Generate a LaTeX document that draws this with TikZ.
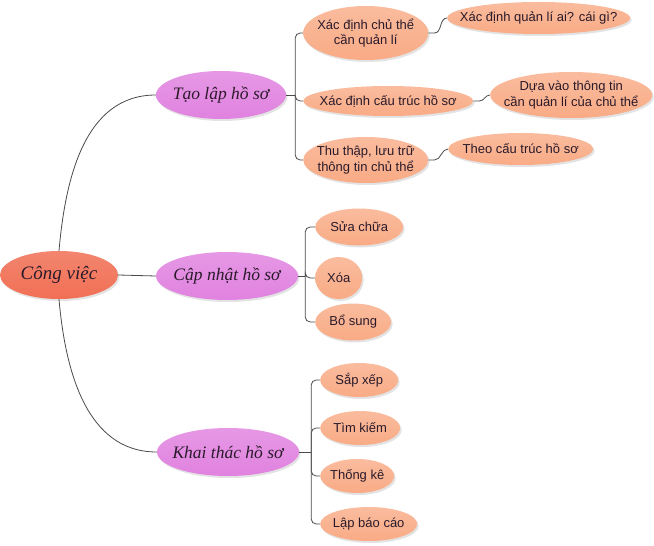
\documentclass[tikz,border=0pt]{standalone}
\usepackage{fontspec}
\setmainfont{Liberation Sans}
\newfontfamily\titlefont{Liberation Serif}
\usepackage{tikz}
\usetikzlibrary{positioning,shapes.geometric,shadows,calc}
\definecolor{croot}{HTML}{EE5636}
\definecolor{cmain}{HTML}{DB6CDA}
\definecolor{cleaf}{HTML}{F7986A}
\definecolor{cline}{HTML}{4A4A4A}
\definecolor{ctext}{HTML}{2A1A2A}

\begin{document}
\begin{tikzpicture}[
  x=1bp,y=-1bp,
  font=\fontsize{13bp}{15.5bp}\selectfont,
  blob/.style={ellipse,inner xsep=-14bp,inner ysep=-4bp,align=center,text=ctext,
            drop shadow={opacity=.22,shadow xshift=1.5bp,shadow yshift=-2bp}},
  root/.style={blob,top color=croot!72!white,middle color=croot,bottom color=croot!85!white,
            font=\titlefont\itshape\fontsize{19bp}{22bp}\selectfont},
  main/.style={blob,top color=cmain!70!white,middle color=cmain,bottom color=cmain!85!white,
            font=\titlefont\itshape\fontsize{17.5bp}{21bp}\selectfont,minimum height=48bp},
  leaf/.style={blob,anchor=west,top color=cleaf!65!white,middle color=cleaf,bottom color=cleaf!82!white},
  link/.style={draw=cline,line width=.8bp},
  elbow/.style={link,rounded corners=5bp}]

  \useasboundingbox (0,0) rectangle (654,546);

  \node[root,minimum width=118bp,minimum height=48bp] (cv) at (59,275) {Công việc};

  \node[main,minimum width=130bp] (tl) at (221,95) {Tạo lập hồ sơ};
  \node[main,minimum width=142bp] (cn) at (227,276) {Cập nhật hồ sơ};
  \node[main,minimum width=142bp] (kt) at (228,452) {Khai thác hồ sơ};

  % tao lap
  \node[leaf,minimum width=125bp,minimum height=54bp] (xd1) at (303,33) {Xác định chủ thể\\cần quản lí};
  \node[leaf,minimum width=170bp,minimum height=30bp] (xd2) at (303,101) {Xác định cấu trúc hồ sơ};
  \node[leaf,minimum width=125bp,minimum height=46bp] (xd3) at (303,160) {Thu thập, lưu trữ\\thông tin chủ thể};
  \node[leaf,minimum width=176bp,minimum height=32bp] (ql) at (447,18) {Xác định quản lí ai? cái gì?};
  \node[leaf,minimum width=162bp,minimum height=46bp] (dv) at (490,95) {Dựa vào thông tin\\cần quản lí của chủ thể};
  \node[leaf,minimum width=145bp,minimum height=32bp] (th) at (448,149) {Theo cấu trúc hồ sơ};

  % cap nhat
  \node[leaf,minimum width=88bp,minimum height=37bp] (sc) at (315,227) {Sửa chữa};
  \node[leaf,minimum width=47bp,minimum height=42bp] (xo) at (315,278) {Xóa};
  \node[leaf,minimum width=76bp,minimum height=37bp] (bs) at (315,322) {Bổ sung};

  % khai thac
  \node[leaf,minimum width=78bp,minimum height=34bp] (sx) at (320,380) {Sắp xếp};
  \node[leaf,minimum width=80bp,minimum height=34bp] (tk) at (320,428) {Tìm kiếm};
  \node[leaf,minimum width=74bp,minimum height=34bp] (tke) at (320,476) {Thống kê};
  \node[leaf,minimum width=97bp,minimum height=34bp] (lb) at (320,524) {Lập báo cáo};

  \draw[link] (cv.north) to[out=85,in=180] (tl.west);
  \draw[link] (cv.east) -- (cn.west);
  \draw[link] (cv.south) to[out=-85,in=180] (kt.west);

  \draw[link] (tl.east) -- ++(9,0) coordinate (tlb);
  \draw[link] (cn.east) -- ++(7,0) coordinate (cnb);
  \draw[link] (kt.east) -- ++(12,0) coordinate (ktb);
  \foreach \c in {xd1,xd2,xd3} \draw[elbow] (tlb) |- (\c.west);
  \foreach \c in {sc,xo,bs} \draw[elbow] (cnb) |- (\c.west);
  \foreach \c in {sx,tk,tke,lb} \draw[elbow] (ktb) |- (\c.west);

  \draw[link] (xd1.east) -- ++(6,0) to[out=0,in=180] (ql.west);
  \draw[link] (xd2.east) -- ++(6,0) to[out=0,in=180] (dv.west);
  \draw[link] (xd3.east) -- ++(6,0) to[out=0,in=180] (th.west);
\end{tikzpicture}
\end{document}
